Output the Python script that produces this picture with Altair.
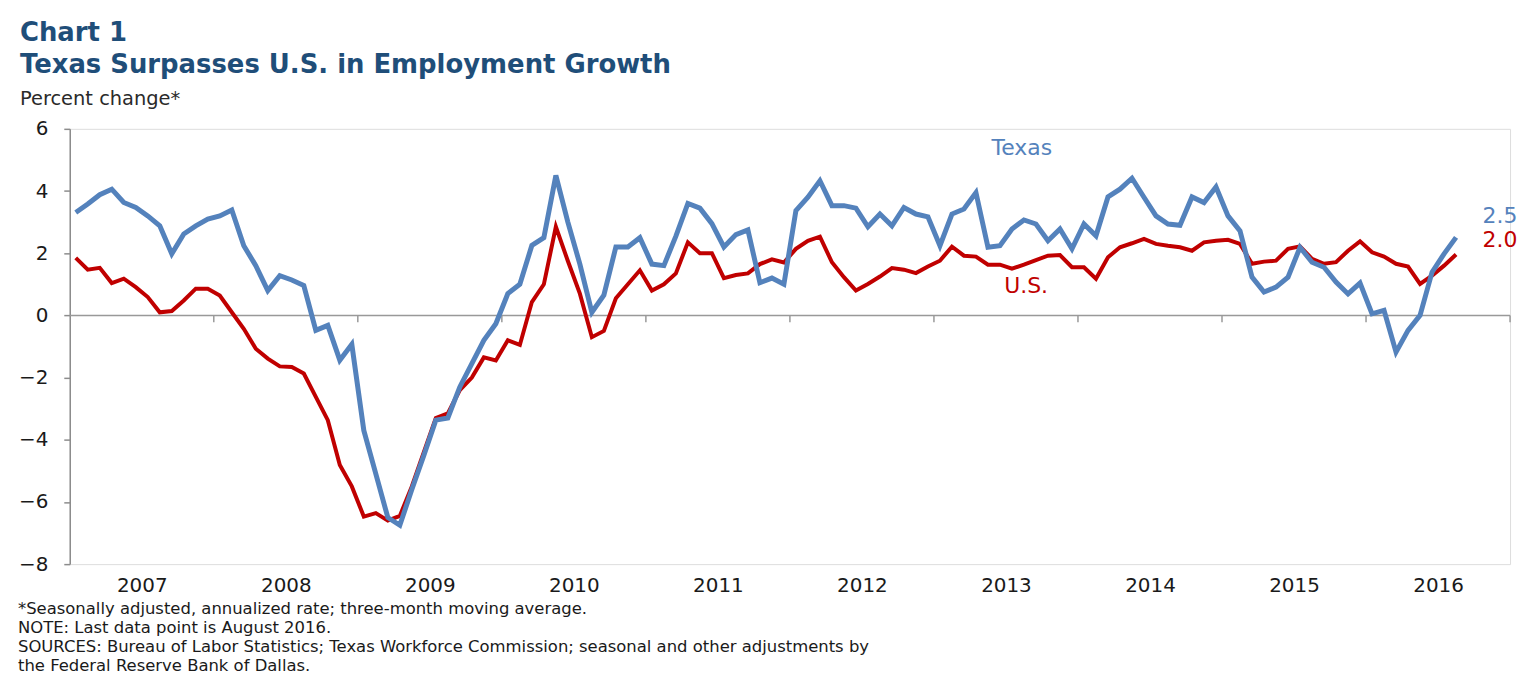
import altair as alt
import pandas as pd

# ---- data (monthly, Jan 2007 - Aug 2016) ----
start_year = 2007
texas = [
    3.31, 3.58, 3.88, 4.06, 3.63, 3.47, 3.20, 2.88, 1.98, 2.62, 2.88, 3.10,   # 2007
    3.20, 3.39, 2.24, 1.60, 0.80, 1.28, 1.14, 0.96, -0.48, -0.32, -1.44, -0.93,  # 2008
    -3.70, -5.10, -6.50, -6.75, -5.60, -4.50, -3.37, -3.30, -2.30, -1.55, -0.80, -0.27,  # 2009
    0.70, 1.00, 2.25, 2.50, 4.50, 3.00, 1.65, 0.10, 0.65, 2.20, 2.20, 2.50,   # 2010
    1.65, 1.60, 2.55, 3.60, 3.45, 2.95, 2.20, 2.60, 2.75, 1.05, 1.20, 1.00,   # 2011
    3.37, 3.80, 4.33, 3.53, 3.53, 3.45, 2.85, 3.26, 2.88, 3.47, 3.26, 3.17,   # 2012
    2.24, 3.26, 3.42, 3.95, 2.19, 2.24, 2.78, 3.07, 2.94, 2.40, 2.78, 2.14,   # 2013
    2.94, 2.56, 3.81, 4.06, 4.41, 3.80, 3.20, 2.94, 2.90, 3.81, 3.63, 4.13,   # 2014
    3.20, 2.72, 1.23, 0.75, 0.91, 1.23, 2.19, 1.71, 1.55, 1.07, 0.69, 1.04,   # 2015
    0.05, 0.16, -1.18, -0.48, 0.00, 1.39, 1.98, 2.51,                         # 2016
]
us = [
    1.85, 1.47, 1.53, 1.04, 1.18, 0.91, 0.59, 0.10, 0.14, 0.48, 0.86, 0.86,   # 2007
    0.64, 0.10, -0.43, -1.07, -1.39, -1.64, -1.66, -1.87, -2.62, -3.37, -4.81, -5.50,  # 2008
    -6.47, -6.36, -6.60, -6.45, -5.50, -4.40, -3.30, -3.15, -2.40, -2.00, -1.35, -1.45,  # 2009
    -0.80, -0.95, 0.43, 1.00, 2.85, 1.75, 0.70, -0.70, -0.50, 0.55, 1.00, 1.45,  # 2010
    0.80, 1.00, 1.35, 2.35, 2.00, 2.00, 1.20, 1.30, 1.35, 1.65, 1.80, 1.70,   # 2011
    2.14, 2.40, 2.53, 1.71, 1.23, 0.80, 1.01, 1.25, 1.52, 1.47, 1.36, 1.57,   # 2012
    1.76, 2.21, 1.92, 1.89, 1.63, 1.63, 1.50, 1.63, 1.78, 1.92, 1.94, 1.55,   # 2013
    1.55, 1.18, 1.87, 2.19, 2.32, 2.46, 2.30, 2.24, 2.19, 2.08, 2.35, 2.40,   # 2014
    2.43, 2.30, 1.66, 1.73, 1.76, 2.14, 2.22, 1.82, 1.66, 1.71, 2.08, 2.38,   # 2015
    2.03, 1.89, 1.66, 1.57, 1.01, 1.28, 1.60, 1.96,                           # 2016
]
year_labels = [2007.5, 2008.5, 2009.5, 2010.5, 2011.5, 2012.5, 2013.5, 2014.5, 2015.5, 2016.5]
year_bounds = [2008, 2009, 2010, 2011, 2012, 2013, 2014, 2015, 2016, 2017]
y_ticks = [-8, -6, -4, -2, 0, 2, 4, 6]

ann_text = ["Texas", "U.S.", "2.5", "2.0"]
ann_x = [2013.61, 2013.64, 2016.93, 2016.93]
ann_y = [5.38, 0.96, 3.2, 2.44]
ann_series = ["Texas", "U.S.", "Texas", "U.S."]

notes = [
    "*Seasonally adjusted, annualized rate; three-month moving average.",
    "NOTE:  Last data point is August 2016.",
    "SOURCES:  Bureau of Labor Statistics; Texas Workforce Commission; seasonal and other adjustments by",
    "the Federal Reserve Bank of Dallas.",
]

BLUE = "#5482BC"
RED = "#C00000"
FONT = "DejaVu Sans"

months = [start_year + (i + 0.5) / 12 for i in range(len(texas))]
df = pd.DataFrame({
    "t": months * 2,
    "value": texas + us,
    "series": ["Texas"] * len(texas) + ["U.S."] * len(us),
})
ann = pd.DataFrame({"x": ann_x, "y": ann_y, "label": ann_text, "series": ann_series})
bounds = pd.DataFrame({"t": year_bounds, "y0": [0] * len(year_bounds), "y1": [-0.22] * len(year_bounds)})

W, H = 1446, 437

xscale = alt.Scale(domain=[2007, 2017], nice=False, zero=False)
yscale = alt.Scale(domain=[-8, 6], nice=False, zero=False)
cscale = alt.Scale(domain=["Texas", "U.S."], range=[BLUE, RED])

xaxis = alt.Axis(values=year_labels, labelExpr="floor(datum.value)", domain=False, ticks=False,
                 grid=False, title=None, labelFontSize=20, labelFont=FONT, labelColor="#1a1a1a",
                 labelPadding=11, labelFlush=False)
yaxis = alt.Axis(values=y_ticks, grid=False, title=None, domainColor="#8c8c8c", domainWidth=1.5,
                 tickColor="#8c8c8c", tickWidth=1.5, tickSize=6, labelFontSize=20, labelFont=FONT,
                 labelColor="#1a1a1a", labelPadding=16)

base = alt.Chart(df)

zero = alt.Chart(pd.DataFrame({"z": [0]})).mark_rule(color="#999999", strokeWidth=1.5).encode(
    y=alt.Y("z:Q", scale=yscale, axis=yaxis))

ticks = alt.Chart(bounds).mark_rule(color="#999999", strokeWidth=1.5).encode(
    x=alt.X("t:Q", scale=xscale, axis=xaxis),
    y=alt.Y("y0:Q", scale=yscale),
    y2="y1:Q",
)

us_line = base.transform_filter(alt.datum.series == "U.S.").mark_line(strokeWidth=4).encode(
    x=alt.X("t:Q", scale=xscale, axis=xaxis),
    y=alt.Y("value:Q", scale=yscale, axis=yaxis),
    color=alt.Color("series:N", scale=cscale, legend=None),
)
tx_line = base.transform_filter(alt.datum.series == "Texas").mark_line(strokeWidth=5).encode(
    x=alt.X("t:Q", scale=xscale, axis=xaxis),
    y=alt.Y("value:Q", scale=yscale, axis=yaxis),
    color=alt.Color("series:N", scale=cscale, legend=None),
)

labels = alt.Chart(ann).mark_text(align="center", baseline="middle", fontSize=22, font=FONT).encode(
    x=alt.X("x:Q", scale=xscale),
    y=alt.Y("y:Q", scale=yscale),
    text="label:N",
    color=alt.Color("series:N", scale=cscale, legend=None),
)

note_layers = []
note_y = [487, 506, 525, 544]
for line, yy in zip(notes, note_y):
    note_layers.append(
        alt.Chart(pd.DataFrame({"txt": [line]})).mark_text(
            align="left", baseline="alphabetic", fontSize=16.5, font=FONT, color="#1a1a1a"
        ).encode(x=alt.value(-52), y=alt.value(yy), text="txt:N")
    )

chart = alt.layer(zero, ticks, us_line, tx_line, labels, *note_layers).properties(
    width=W, height=H,
    title=alt.TitleParams(
        text=["Chart 1", "Texas Surpasses U.S. in Employment Growth"],
        subtitle=["Percent change*"],
        anchor="start", frame="group", dx=-50, offset=10,
        font=FONT, fontSize=26, fontWeight="bold", color="#1F4E79", lineHeight=31.5,
        subtitleFont=FONT, subtitleFontSize=19.5, subtitleColor="#2a2a2a", subtitlePadding=13,
    ),
    autosize=alt.AutoSizeParams(type="none"),
    padding={"left": 62, "top": 120, "right": 16, "bottom": 112},
).configure_view(stroke=None).configure(background="white")

chart.save("out.html", embed_options={"renderer": "svg", "actions": False})
